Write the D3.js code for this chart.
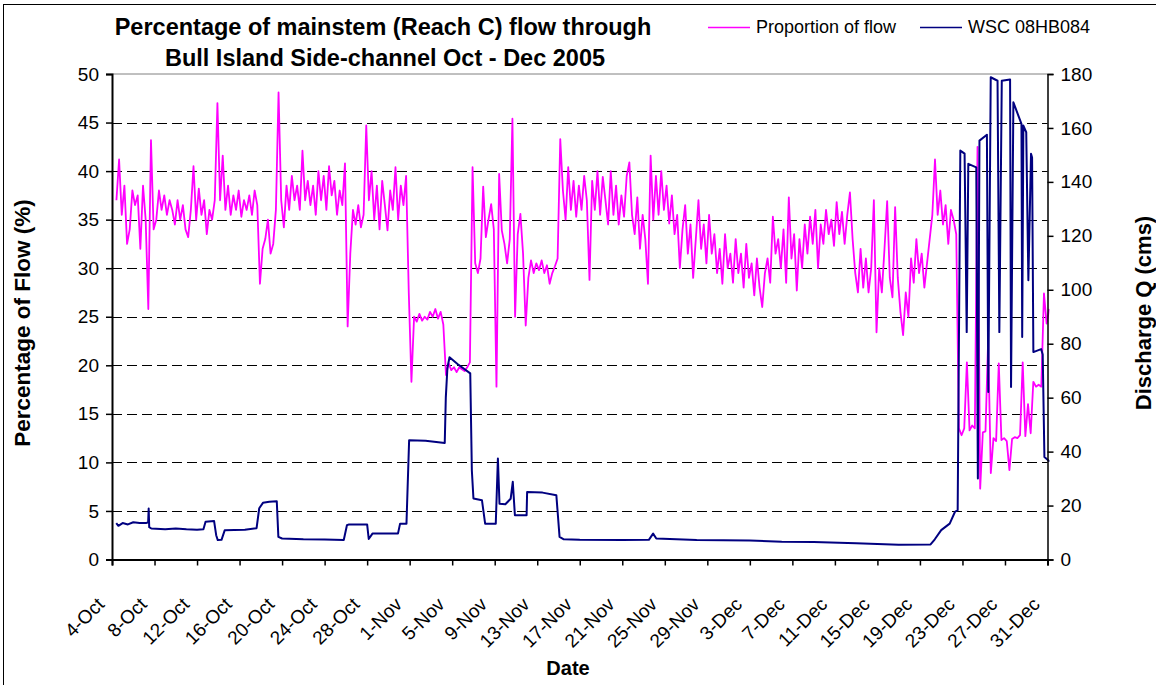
<!DOCTYPE html>
<html>
<head>
<meta charset="utf-8">
<script src="https://cdn.jsdelivr.net/npm/d3@7"></script>
<style>
  body { margin: 0; background: #fff; }
  svg { display: block; font-family: "Liberation Sans", Arial, sans-serif; }
</style>
</head>
<body>
<svg id="chart" width="1156" height="685"></svg>
<script>
// Proportion of mainstem flow (%) through the side-channel, one reading every 6 h from 4-Oct 10:00
const propStart = "2005-10-04T10:00:00Z";
const propStepHours = 6;
const proportion = [
  37, 41.2, 35.5, 38.5, 32.5, 34, 38, 36.5, 37.5, 32, 38.5, 35, 25.8, 43.2, 34, 35,
  38, 36, 37.5, 35.5, 37, 36, 34.5, 37, 35, 36.5, 34, 33.2, 36, 40.5, 35, 38.2,
  35.5, 37, 33.5, 36, 35, 37, 47, 37, 41.6, 36, 38.5, 35.5, 37.5, 36, 38, 35.3,
  37, 36, 37.5, 35.5, 38, 36.5, 28.4, 32, 33, 35, 31.5, 32.5, 36, 48.1, 37, 34.2,
  38.5, 36, 39.5, 37, 38.5, 36, 42.1, 37, 39, 36.5, 38.5, 35.5, 40, 37, 39.5, 36,
  40.5, 37.5, 39, 35.5, 38, 36.5, 40.8, 24, 31.5, 36, 34.5, 36.5, 34.2, 35.5, 44.7, 37,
  40, 35, 38.5, 34, 39, 36.5, 33.9, 38, 36, 40.4, 35, 38.5, 36.5, 39.5, 27.5, 18.3,
  25, 24.5, 25.3, 24.6, 25, 24.7, 25.5, 25, 25.8, 24.8, 25.5, 24.2, 19, 20.2, 19.5, 19.8,
  19.3, 19.8, 19.6, 19.4, 19.8, 20.3, 40.4, 30.5, 29.5, 31, 38.4, 33.2, 35, 36.6, 34, 17.8,
  39.7, 33.9, 32.5, 30.5, 33, 45.4, 25, 33.5, 35.6, 31.5, 24.1, 29, 30.8, 29.5, 30.5, 29.8,
  30.8, 29.5, 30.3, 28.4, 29.5, 30.2, 31, 43.3, 38, 35, 40.4, 36, 39, 35.3, 38.5, 36,
  39.5, 37, 28.8, 39, 36, 40, 35.5, 39.4, 37, 34.5, 40, 35.5, 38.5, 34.5, 37.5, 35.3,
  39.5, 40.9, 35.5, 33.5, 37.3, 32, 35.5, 33, 28.4, 41.6, 35, 39.5, 35.5, 40, 36, 38.5,
  34.6, 37.5, 33.5, 35.5, 30, 34, 36.5, 31.5, 34.5, 29, 33, 37, 32, 34.5, 30.5, 35.5,
  31.5, 33.5, 29.5, 32, 28.4, 33.5, 30, 31.5, 28.5, 33, 29.5, 31.5, 28, 32.5, 29, 30.5,
  27.2, 31, 28, 26, 29.5, 31, 28.5, 35.3, 31.5, 33, 30, 34, 28.5, 37.3, 31, 33.5,
  27.7, 33, 30, 34.5, 31.5, 35.3, 32.5, 36, 30, 34.5, 32.5, 36, 33.5, 35, 32.3, 36.8,
  33.5, 35.8, 32.5, 35.5, 37.8, 33, 29.5, 27.5, 32, 28, 31, 27.5, 30, 37, 23.4, 30,
  27.5, 32, 36.9, 29, 27, 36.3, 29, 25.5, 23.1, 27.5, 25, 31, 28.5, 33, 29.5, 31.5,
  28, 30.5, 33, 35.5, 41.2, 35.5, 38, 34.5, 36.5, 32.5, 36, 35, 33.5, 13.5, 12.8, 13.5,
  20.3, 13.3, 13.8, 13.5, 42.5, 7.3, 13.1, 13.2, 22.6, 8.9, 12.5, 12.2, 20.2, 12.3, 12.5, 12.2,
  9.2, 12.4, 12.6, 12.5, 12.8, 20.3, 12.7, 16, 13, 18.3, 17.8, 18, 17.8, 27.4, 24.3, 25.8
];

// WSC 08HB084 discharge (cms): [days after 4-Oct 00:00, Q]
const dischargeStart = "2005-10-04T00:00:00Z";
const discharge = [
  [0.4, 13.5], [0.6, 12.5], [1.0, 13.5], [1.5, 13], [2.0, 13.8], [2.6, 13.5], [3.2, 13.5],
  [3.4, 13.8], [3.45, 18.9], [3.5, 12], [3.7, 11.5], [5, 11.2], [6, 11.5], [7, 11.2], [8, 11],
  [8.6, 11.2], [8.8, 14], [9.6, 14.3], [9.8, 9], [9.95, 7.2], [10.3, 7.3], [10.6, 10.8],
  [11.5, 10.9], [12.5, 11], [13.6, 11.6], [13.85, 19], [14.2, 21], [14.8, 21.4], [15.5, 21.6],
  [15.65, 8.4], [16, 7.8], [18, 7.5], [20, 7.4], [21.8, 7.2], [22.1, 12.7], [22.3, 13],
  [24.0, 13], [24.15, 7.6], [24.5, 9.6], [26.9, 9.6], [27.1, 13.3], [27.7, 13.3], [27.95, 44.2],
  [29.5, 44], [31.3, 43.2], [31.4, 60], [31.55, 71], [31.75, 75], [32.5, 72.5], [33.7, 69],
  [33.85, 33], [34.0, 22.6], [34.8, 22], [35.1, 13.3], [36.1, 13.3], [36.3, 37.4], [36.45, 20.7],
  [37.0, 20.5], [37.5, 22.5], [37.7, 28.8], [37.9, 16.4], [39.0, 16.4], [39.05, 25], [40.5, 24.8],
  [41.8, 23.8], [42.1, 8.4], [42.5, 7.5], [44, 7.3], [48, 7.2], [50.5, 7.3], [50.9, 9.6],
  [51.2, 7.8], [55, 7.2], [60, 7], [63, 6.6], [66, 6.5], [70, 6], [74, 5.5], [77.0, 5.6],
  [77.4, 7.5], [78.0, 10.9], [78.8, 13.3], [79.3, 17.7], [79.55, 18.3], [79.8, 151.6],
  [80.2, 150.5], [80.4, 84.3], [80.55, 146.7], [81.3, 145.4], [81.45, 30], [81.6, 155.3],
  [82.3, 157.5], [82.43, 62.1], [82.66, 178.8], [83.3, 177.5], [83.47, 84.3], [83.7, 177.5],
  [84.48, 178], [84.57, 64], [84.79, 169.5], [85.55, 161.5], [85.62, 82.5], [85.73, 160.9],
  [86.0, 158.4], [86.2, 103.5], [86.45, 150.4], [86.55, 149], [86.67, 76.9], [87.4, 78],
  [87.55, 76], [87.71, 38], [88.2, 36.3]
];

const dateLabels = ["4-Oct", "8-Oct", "12-Oct", "16-Oct", "20-Oct", "24-Oct", "28-Oct",
  "1-Nov", "5-Nov", "9-Nov", "13-Nov", "17-Nov", "21-Nov", "25-Nov", "29-Nov",
  "3-Dec", "7-Dec", "11-Dec", "15-Dec", "19-Dec", "23-Dec", "27-Dec", "31-Dec"];
const pctTicks = [0, 5, 10, 15, 20, 25, 30, 35, 40, 45, 50];
const cmsTicks = [0, 20, 40, 60, 80, 100, 120, 140, 160, 180];

const titleLines = ["Percentage of mainstem (Reach C) flow through",
  "Bull Island Side-channel Oct - Dec 2005"];
const seriesNames = ["Proportion of flow", "WSC 08HB084"];
const pink = "#ff00ff", navy = "#000080";

const svg = d3.select("#chart");
const m = { left: 112, right: 1047.5, top: 74, bottom: 559.5 };

const parseTick = d3.utcParse("%d-%b-%Y");
const tickDates = dateLabels.map((s) => parseTick(s + "-2005"));

const x = d3.scaleUtc()
  .domain([tickDates[0], tickDates[tickDates.length - 1]])
  .range([m.left, m.right]);
const yL = d3.scaleLinear().domain([0, 50]).range([m.bottom, m.top]);
const yR = d3.scaleLinear().domain([0, 180]).range([m.bottom, m.top]);

const t0 = new Date(propStart).getTime();
const propData = proportion.map((v, i) => ({ t: new Date(t0 + i * propStepHours * 3600e3), v }));
const q0 = new Date(dischargeStart).getTime();
const qData = discharge.map(([d, q]) => ({ t: new Date(q0 + d * 86400e3), v: q }));

// outer chart-area border
svg.append("rect")
  .attr("x", 3.5).attr("y", 4.5).attr("width", 1170).attr("height", 700)
  .attr("fill", "none").attr("stroke", "#000").attr("stroke-width", 1);

// dashed grid lines from the left axis
pctTicks.filter((t) => t > 0 && t < 50).forEach((t) => {
  svg.append("line")
    .attr("x1", m.left).attr("x2", m.right)
    .attr("y1", Math.round(yL(t)) + 0.5).attr("y2", Math.round(yL(t)) + 0.5)
    .attr("stroke", "#000").attr("stroke-width", 1)
    .attr("stroke-dasharray", "10,5");
});

// plot area top border
svg.append("line")
  .attr("x1", m.left).attr("x2", m.right).attr("y1", m.top).attr("y2", m.top)
  .attr("stroke", "#808080").attr("stroke-width", 1);

const clip = svg.append("defs").append("clipPath").attr("id", "plot-clip");
clip.append("rect").attr("x", m.left).attr("y", m.top - 2)
  .attr("width", m.right - m.left + 2).attr("height", m.bottom - m.top + 2);

const line = (yScale) => d3.line().x((d) => x(d.t)).y((d) => yScale(d.v));

svg.append("path")
  .datum(propData)
  .attr("d", line(yL))
  .attr("fill", "none").attr("stroke", pink).attr("stroke-width", 1.8)
  .attr("stroke-linejoin", "round")
  .attr("clip-path", "url(#plot-clip)");

svg.append("path")
  .datum(qData)
  .attr("d", line(yR))
  .attr("fill", "none").attr("stroke", navy).attr("stroke-width", 2)
  .attr("stroke-linejoin", "round")
  .attr("clip-path", "url(#plot-clip)");

// axes
const axisFont = (g, size) => g.selectAll("text")
  .attr("font-family", "Liberation Sans, Arial, sans-serif")
  .attr("font-size", size).attr("fill", "#000");

const leftAxis = svg.append("g")
  .attr("transform", `translate(${m.left},0)`)
  .call(d3.axisLeft(yL).tickValues(pctTicks).tickSize(6).tickPadding(7).tickFormat(d3.format("d")));
axisFont(leftAxis, 19);

const rightAxis = svg.append("g")
  .attr("transform", `translate(${m.right},0)`)
  .call(d3.axisRight(yR).tickValues(cmsTicks).tickSize(6).tickPadding(7).tickFormat(d3.format("d")));
axisFont(rightAxis, 19);

const bottomAxis = svg.append("g")
  .attr("transform", `translate(0,${m.bottom})`)
  .call(d3.axisBottom(x).tickValues(tickDates).tickSize(6).tickFormat((d, i) => dateLabels[i]));
axisFont(bottomAxis, 19);
bottomAxis.selectAll("text")
  .attr("text-anchor", "end")
  .attr("dy", null).attr("y", null)
  .attr("transform", "translate(-7,46) rotate(-45)");

[leftAxis, rightAxis, bottomAxis].forEach((g) => {
  g.select(".domain").attr("stroke", "#000").attr("stroke-width", 2);
  g.selectAll(".tick line").attr("stroke", "#000").attr("stroke-width", 1.5);
});
rightAxis.select(".domain").attr("stroke-width", 1.5);

// titles
svg.append("text")
  .attr("x", 383).attr("y", 35)
  .attr("text-anchor", "middle").attr("font-weight", "bold").attr("font-size", 23.5)
  .text(titleLines[0]);
svg.append("text")
  .attr("x", 385).attr("y", 66)
  .attr("text-anchor", "middle").attr("font-weight", "bold").attr("font-size", 23.5)
  .text(titleLines[1]);

svg.append("text")
  .attr("transform", "translate(30,323) rotate(-90)")
  .attr("text-anchor", "middle").attr("font-weight", "bold").attr("font-size", 22.5)
  .text("Percentage of Flow (%)");
svg.append("text")
  .attr("transform", "translate(1151,313) rotate(-90)")
  .attr("text-anchor", "middle").attr("font-weight", "bold").attr("font-size", 22)
  .text("Discharge Q (cms)");
svg.append("text")
  .attr("x", 568).attr("y", 675)
  .attr("text-anchor", "middle").attr("font-weight", "bold").attr("font-size", 20)
  .text("Date");

// legend
const legend = [
  { name: seriesNames[0], color: pink, x: 708 },
  { name: seriesNames[1], color: navy, x: 920 }
];
legend.forEach((l) => {
  svg.append("line")
    .attr("x1", l.x).attr("x2", l.x + 42).attr("y1", 27.5).attr("y2", 27.5)
    .attr("stroke", l.color).attr("stroke-width", 1.6);
  svg.append("text")
    .attr("x", l.x + 48).attr("y", 33)
    .attr("font-size", 18)
    .text(l.name);
});
</script>
</body>
</html>
